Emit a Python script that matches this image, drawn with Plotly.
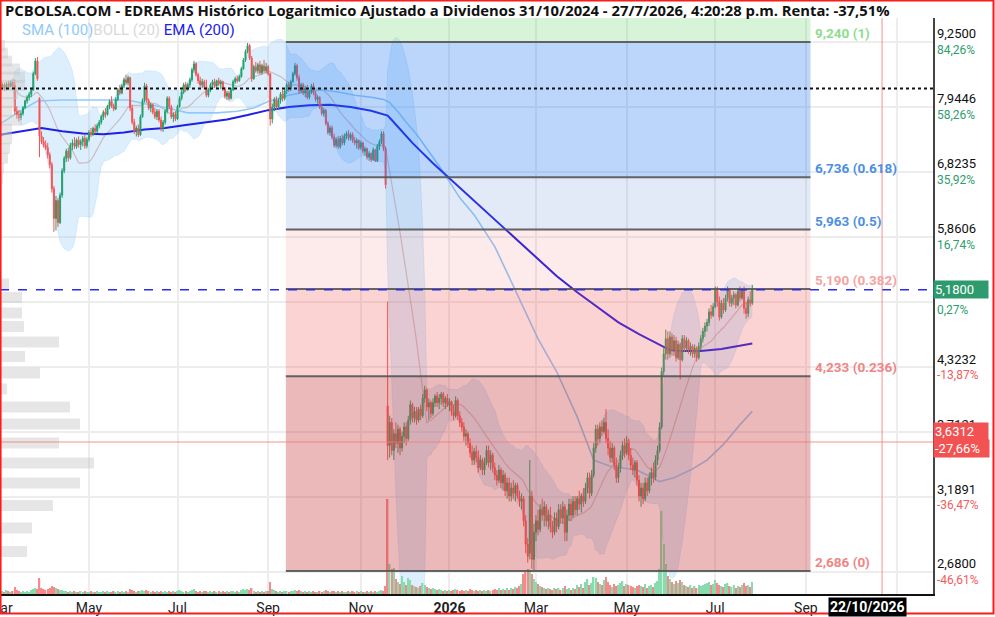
import numpy as np
import pandas as pd
import plotly.graph_objects as go

# ---------------- data ----------------
START_DATE = "2025-03-03"   # first visible session; one candle per weekday up to 27/7/2026

opens = [
8.28,8.32,8.36,8.27,8.38,8.33,8.41,8.35,7.86,7.80,
7.74,7.82,7.93,8.05,8.12,8.18,8.26,8.58,8.84,8.10,
7.42,7.32,7.26,7.22,7.10,6.94,6.56,6.12,6.38,6.06,
6.46,6.84,7.04,7.16,7.05,7.26,7.30,7.24,7.35,7.27,
7.32,7.38,7.25,7.36,7.48,7.44,7.55,7.50,7.60,7.66,
7.76,7.84,7.80,7.95,8.04,7.96,7.90,8.08,8.26,8.20,
8.34,8.46,8.40,8.50,7.92,7.66,7.50,7.56,7.44,7.76,
8.06,8.34,8.06,7.92,7.98,7.84,7.76,7.86,7.70,7.56,
7.66,7.86,8.10,7.94,7.76,7.80,7.72,7.95,8.10,8.22,
8.36,8.28,8.36,8.46,8.66,8.78,8.56,8.44,8.36,8.42,
8.32,8.16,8.26,8.36,8.42,8.34,8.44,8.38,8.42,8.28,
8.14,8.20,8.10,8.26,8.42,8.48,8.44,8.52,8.68,8.86,
9.04,9.16,8.90,8.48,8.72,8.64,8.76,8.60,8.74,8.64,
8.72,8.58,7.72,7.94,8.08,7.94,8.06,8.18,8.10,8.24,
8.36,8.28,8.42,8.58,8.74,8.50,8.24,8.36,8.20,8.30,
8.12,8.22,8.34,8.20,8.08,8.12,7.94,7.82,7.88,7.64,
7.48,7.56,7.40,7.26,7.36,7.24,7.38,7.30,7.42,7.46,
7.38,7.44,7.34,7.30,7.34,7.22,7.30,7.16,7.20,7.06,
7.12,7.02,7.18,7.00,7.24,7.32,7.46,7.20,3.95,3.60,
3.80,3.56,3.70,3.62,3.74,3.58,3.68,3.76,3.66,3.82,
3.96,3.84,3.90,3.82,3.92,3.86,4.02,4.10,3.94,3.98,
3.88,3.98,4.04,3.98,4.02,4.06,3.98,4.02,3.96,3.99,
3.90,3.86,4.00,3.86,3.80,3.76,3.68,3.70,3.62,3.54,
3.48,3.55,3.50,3.42,3.48,3.40,3.46,3.56,3.46,3.52,
3.42,3.36,3.32,3.40,3.30,3.36,3.24,3.30,3.20,3.26,
3.22,3.28,3.20,3.16,3.18,3.02,2.86,2.80,3.20,2.76,
2.94,3.02,2.96,3.10,3.06,3.12,3.02,3.06,2.98,2.94,
3.04,2.98,3.10,3.04,3.12,2.94,3.06,3.14,3.06,3.16,
3.10,3.18,3.14,3.20,3.16,3.26,3.34,3.22,3.36,3.58,
3.74,3.66,3.76,3.72,3.80,3.66,3.58,3.50,3.58,3.44,
3.34,3.42,3.52,3.60,3.54,3.64,3.52,3.44,3.40,3.46,
3.32,3.20,3.26,3.18,3.30,3.24,3.34,3.38,3.34,3.48,
3.56,3.76,4.28,4.46,4.62,4.46,4.64,4.50,4.60,4.42,
4.56,4.40,4.62,4.52,4.60,4.50,4.54,4.46,4.52,4.42,
4.54,4.62,4.70,4.76,4.80,4.92,4.88,4.98,5.18,5.04,
4.86,5.02,4.94,5.08,5.18,5.02,5.08,5.12,5.00,5.16,
5.08,5.18,4.96,4.90,5.06,5.02]

highs = [
8.36,8.40,8.40,8.42,8.44,8.45,8.47,8.46,7.95,7.88,
7.86,7.96,8.08,8.16,8.22,8.30,8.62,8.90,8.92,8.12,
7.50,7.40,7.34,7.30,7.14,6.98,6.60,6.45,6.42,6.50,
6.88,7.08,7.20,7.22,7.30,7.36,7.40,7.38,7.41,7.36,
7.42,7.44,7.40,7.52,7.56,7.58,7.62,7.64,7.70,7.80,
7.88,7.92,7.98,8.08,8.14,8.00,8.12,8.30,8.36,8.38,
8.50,8.56,8.54,8.52,7.98,7.72,7.60,7.62,7.80,8.10,
8.40,8.38,8.10,8.02,8.00,7.92,7.90,7.90,7.76,7.70,
7.90,8.14,8.14,7.98,7.84,7.86,7.98,8.14,8.26,8.40,
8.42,8.40,8.50,8.70,8.84,8.82,8.60,8.52,8.48,8.46,
8.46,8.30,8.40,8.46,8.48,8.46,8.50,8.46,8.44,8.32,
8.24,8.24,8.30,8.46,8.52,8.54,8.56,8.72,8.90,9.08,
9.22,9.20,8.94,8.76,8.82,8.80,8.84,8.78,8.86,8.80,
8.76,8.60,8.00,8.12,8.14,8.10,8.22,8.26,8.28,8.40,
8.42,8.46,8.62,8.80,8.78,8.56,8.40,8.40,8.34,8.36,
8.26,8.38,8.40,8.24,8.16,8.14,8.00,7.92,7.90,7.68,
7.60,7.60,7.46,7.40,7.42,7.42,7.44,7.46,7.50,7.52,
7.48,7.48,7.40,7.38,7.36,7.34,7.32,7.24,7.22,7.16,
7.14,7.22,7.20,7.28,7.36,7.50,7.50,7.24,5.04,3.86,
3.84,3.74,3.80,3.78,3.76,3.72,3.80,3.80,3.86,4.00,
3.98,3.94,3.94,3.94,3.96,4.06,4.14,4.12,4.02,4.00,
4.02,4.06,4.08,4.06,4.08,4.08,4.04,4.06,4.02,4.00,
3.96,4.04,4.02,3.90,3.84,3.80,3.74,3.72,3.66,3.60,
3.58,3.60,3.56,3.52,3.50,3.50,3.60,3.60,3.56,3.54,
3.46,3.40,3.44,3.42,3.40,3.38,3.34,3.34,3.30,3.32,
3.30,3.30,3.24,3.22,3.20,3.06,2.90,3.48,3.24,3.00,
3.06,3.10,3.14,3.18,3.16,3.14,3.10,3.12,3.02,3.08,
3.08,3.14,3.14,3.16,3.14,3.10,3.18,3.18,3.20,3.20,
3.20,3.24,3.22,3.26,3.30,3.38,3.38,3.40,3.62,3.78,
3.78,3.80,3.82,3.84,3.92,3.74,3.64,3.62,3.60,3.50,
3.46,3.56,3.64,3.66,3.68,3.66,3.58,3.50,3.48,3.48,
3.36,3.30,3.30,3.34,3.34,3.38,3.42,3.46,3.52,3.60,
3.80,4.32,4.52,4.72,4.70,4.70,4.68,4.66,4.64,4.60,
4.58,4.66,4.66,4.64,4.62,4.58,4.56,4.56,4.54,4.58,
4.66,4.74,4.80,4.84,4.96,5.00,5.02,5.22,5.22,5.10,
5.06,5.08,5.12,5.22,5.20,5.12,5.16,5.14,5.20,5.22,
5.20,5.22,5.04,5.10,5.16,5.24]

lows = [
8.22,8.26,8.24,8.25,8.30,8.31,8.30,7.80,7.72,7.68,
7.70,7.78,7.90,8.00,8.06,8.12,8.24,8.55,8.44,7.06,
7.28,7.22,7.18,7.04,6.88,6.50,5.93,5.95,6.00,6.04,
6.42,6.80,6.98,6.99,7.02,7.18,7.20,7.20,7.22,7.18,
7.24,7.20,7.21,7.32,7.40,7.42,7.46,7.47,7.55,7.62,
7.70,7.74,7.78,7.90,7.92,7.86,7.88,8.05,8.16,8.18,
8.30,8.36,8.35,7.86,7.62,7.45,7.41,7.40,7.42,7.74,
8.02,8.02,7.88,7.84,7.80,7.72,7.70,7.66,7.50,7.49,
7.62,7.82,7.90,7.72,7.66,7.68,7.70,7.92,8.06,8.18,
8.22,8.24,8.30,8.42,8.60,8.52,8.38,8.32,8.30,8.28,
8.12,8.12,8.22,8.30,8.30,8.30,8.34,8.28,8.24,8.10,
8.07,8.06,8.08,8.24,8.38,8.40,8.42,8.50,8.66,8.82,
9.00,8.86,8.42,8.46,8.60,8.58,8.56,8.56,8.60,8.58,
8.54,7.60,7.64,7.86,7.88,7.90,8.00,8.04,8.06,8.18,
8.22,8.24,8.40,8.54,8.44,8.18,8.20,8.16,8.12,8.08,
8.08,8.18,8.16,8.04,8.00,7.90,7.78,7.76,7.60,7.44,
7.42,7.36,7.22,7.22,7.20,7.20,7.26,7.26,7.36,7.34,
7.34,7.30,7.26,7.20,7.18,7.18,7.12,7.08,7.02,7.00,
6.98,7.00,6.98,6.98,7.18,7.28,7.16,6.56,3.48,3.50,
3.52,3.48,3.58,3.54,3.52,3.55,3.62,3.60,3.64,3.78,
3.80,3.80,3.78,3.80,3.82,3.84,3.98,3.90,3.82,3.84,
3.86,3.94,3.94,3.92,3.96,3.94,3.92,3.94,3.90,3.86,
3.82,3.84,3.82,3.76,3.72,3.64,3.60,3.58,3.50,3.44,
3.44,3.46,3.38,3.40,3.36,3.36,3.44,3.42,3.40,3.38,
3.32,3.28,3.30,3.26,3.24,3.20,3.18,3.16,3.16,3.18,
3.16,3.18,3.12,3.10,2.98,2.80,2.74,2.76,2.70,2.69,
2.88,2.92,2.94,3.02,2.98,2.98,2.96,2.94,2.90,2.92,
2.94,2.96,3.00,3.00,2.88,2.88,3.02,3.02,3.04,3.06,
3.06,3.10,3.08,3.12,3.14,3.22,3.18,3.20,3.34,3.54,
3.60,3.62,3.68,3.70,3.62,3.52,3.46,3.46,3.40,3.30,
3.30,3.38,3.48,3.50,3.52,3.48,3.40,3.36,3.34,3.28,
3.16,3.12,3.14,3.16,3.20,3.22,3.28,3.30,3.32,3.44,
3.54,3.74,4.24,4.40,4.40,4.42,4.44,4.44,4.38,4.40,
4.20,4.38,4.48,4.48,4.46,4.44,4.42,4.42,4.38,4.40,
4.50,4.58,4.64,4.70,4.76,4.84,4.86,4.96,4.98,4.82,
4.84,4.90,4.92,5.04,4.98,4.98,5.00,4.96,4.98,5.04,
5.06,4.90,4.84,4.86,4.98,5.00]

closes = [
8.32,8.36,8.27,8.38,8.33,8.41,8.35,7.86,7.80,7.74,
7.82,7.93,8.05,8.12,8.18,8.26,8.58,8.84,8.48,7.42,
7.32,7.26,7.22,7.10,6.94,6.56,6.12,6.38,6.06,6.46,
6.84,7.04,7.16,7.05,7.26,7.30,7.24,7.35,7.27,7.32,
7.38,7.25,7.36,7.48,7.44,7.55,7.50,7.60,7.66,7.76,
7.84,7.80,7.95,8.04,7.96,7.90,8.08,8.26,8.20,8.34,
8.46,8.40,8.50,7.92,7.66,7.50,7.56,7.44,7.76,8.06,
8.34,8.06,7.92,7.98,7.84,7.76,7.86,7.70,7.56,7.66,
7.86,8.10,7.94,7.76,7.80,7.72,7.95,8.10,8.22,8.36,
8.28,8.36,8.46,8.66,8.78,8.56,8.44,8.36,8.42,8.32,
8.16,8.26,8.36,8.42,8.34,8.44,8.38,8.42,8.28,8.14,
8.20,8.10,8.26,8.42,8.48,8.44,8.52,8.68,8.86,9.04,
9.16,8.90,8.48,8.72,8.64,8.76,8.60,8.74,8.64,8.72,
8.58,7.72,7.94,8.08,7.94,8.06,8.18,8.10,8.24,8.36,
8.28,8.42,8.58,8.74,8.50,8.24,8.36,8.20,8.30,8.12,
8.22,8.34,8.20,8.08,8.12,7.94,7.82,7.88,7.64,7.48,
7.56,7.40,7.26,7.36,7.24,7.38,7.30,7.42,7.46,7.38,
7.44,7.34,7.30,7.34,7.22,7.30,7.16,7.20,7.06,7.12,
7.02,7.18,7.00,7.24,7.32,7.46,7.20,6.62,3.60,3.80,
3.56,3.70,3.62,3.74,3.58,3.68,3.76,3.66,3.82,3.96,
3.84,3.90,3.82,3.92,3.86,4.02,4.10,3.94,3.98,3.88,
3.98,4.04,3.98,4.02,4.06,3.98,4.02,3.96,3.99,3.90,
3.86,4.00,3.86,3.80,3.76,3.68,3.70,3.62,3.54,3.48,
3.55,3.50,3.42,3.48,3.40,3.46,3.56,3.46,3.52,3.42,
3.36,3.32,3.40,3.30,3.36,3.24,3.30,3.20,3.26,3.22,
3.28,3.20,3.16,3.18,3.02,2.86,2.78,3.20,2.76,2.94,
3.02,2.96,3.10,3.06,3.12,3.02,3.06,2.98,2.94,3.04,
2.98,3.10,3.04,3.12,2.94,3.06,3.14,3.06,3.16,3.10,
3.18,3.14,3.20,3.16,3.26,3.34,3.22,3.36,3.58,3.74,
3.66,3.76,3.72,3.80,3.66,3.58,3.50,3.58,3.44,3.34,
3.42,3.52,3.60,3.54,3.64,3.52,3.44,3.40,3.46,3.32,
3.20,3.26,3.18,3.30,3.24,3.34,3.38,3.34,3.48,3.56,
3.76,4.28,4.46,4.62,4.46,4.64,4.50,4.60,4.42,4.56,
4.40,4.62,4.52,4.60,4.50,4.54,4.46,4.52,4.42,4.54,
4.62,4.70,4.76,4.80,4.92,4.88,4.98,5.18,5.04,4.86,
5.02,4.94,5.08,5.18,5.02,5.08,5.12,5.00,5.16,5.08,
5.18,4.96,4.90,5.06,5.02,5.18]

volumes = [  # thousands of shares
20,30,20,40,30,20,30,70,40,30, 20,30,20,30,20,40,50,60,50,160,
60,50,40,50,60,80,70,60,50,40, 40,30,30,20,30,20,30,20,20,30,
20,30,20,20,30,20,20,30,20,20, 30,20,30,20,20,30,20,30,20,30,
20,30,20,50,40,30,20,30,30,40, 30,40,30,20,30,20,30,20,30,20,
30,20,30,20,30,20,30,40,30,20, 30,20,30,40,50,30,20,30,20,30,
30,20,30,20,30,20,30,20,30,20, 30,20,30,30,20,30,20,40,50,40,
50,40,60,30,20,30,20,30,20,30, 30,120,50,40,30,20,30,20,30,30,
20,30,30,40,30,40,30,20,30,20, 30,20,30,20,20,30,20,30,40,30,
20,30,30,20,30,20,30,20,20,30, 20,30,20,30,20,30,20,20,30,20,
30,20,30,20,30,40,30,80,950,300, 250,260,150,120,100,180,120,90,160,140,
90,80,70,60,80,110,90,70,60,50, 60,50,40,50,40,30,40,30,40,30,
40,50,40,30,40,30,40,30,50,40, 30,40,30,40,30,40,30,40,30,40,
50,40,60,40,50,40,60,40,60,50, 70,60,80,100,200,220,250,240,200,150,
120,100,80,70,60,50,60,50,40,60, 50,60,40,60,80,50,60,40,60,50,
90,70,100,60,120,150,90,110,170,160, 120,100,90,140,170,120,90,70,100,80,
90,110,130,80,100,90,80,70,60,80, 90,80,70,100,60,80,90,70,110,130,
250,830,500,300,180,150,120,100,130,110, 140,120,90,80,70,90,60,80,60,90,
80,90,100,110,120,90,100,140,110,90, 80,70,100,110,80,70,90,60,80,70,
90,110,80,90,70,120]

# SMA(100) and EMA(200) (session number, value)
sma_days = [0, 9, 18, 30, 45, 62, 70, 81, 91, 105, 115, 123, 130, 140, 148, 156, 164, 172, 180,
            186, 189, 193, 197, 202, 214, 223, 230, 240, 244, 249, 255, 261, 270, 280, 288, 296,
            309, 320, 327, 335, 343, 351, 359, 365]
sma_vals = [7.63, 7.85, 8.05, 8.07, 8.07, 8.07, 8.00, 7.92, 7.83, 7.83, 7.86, 7.92, 8.04, 8.16,
            8.22, 8.26, 8.22, 8.16, 8.12, 8.08, 8.02, 7.85, 7.66, 7.45, 6.87, 6.42, 6.17, 5.73,
            5.50, 5.22, 4.90, 4.62, 4.28, 3.85, 3.48, 3.43, 3.40, 3.31, 3.34, 3.40, 3.48, 3.61,
            3.78, 3.90]
ema_days = [0, 10, 20, 30, 40, 50, 60, 70, 80, 90, 100, 110, 120, 130, 140, 150, 160, 170, 180,
            185, 188, 190, 195, 200, 210, 220, 230, 240, 250, 260, 270, 280, 290, 300, 310, 320,
            325, 330, 340, 350, 360, 365]
ema_vals = [7.44, 7.50, 7.56, 7.50, 7.46, 7.45, 7.48, 7.53, 7.56, 7.61, 7.66, 7.71, 7.79, 7.88,
            7.94, 7.97, 7.98, 7.94, 7.87, 7.82, 7.78, 7.70, 7.50, 7.30, 6.96, 6.66, 6.38, 6.10,
            5.84, 5.59, 5.35, 5.15, 4.97, 4.80, 4.67, 4.55, 4.50, 4.49, 4.49, 4.51, 4.55, 4.57]

# volume profile at the left edge (bin price, traded volume)
profile_prices = [2.811, 2.970, 3.130, 3.299, 3.456, 3.622, 3.786, 3.940, 4.109, 4.266, 4.433,
                  4.585, 4.755, 4.907, 5.088, 5.251, 5.414, 5.577, 5.740, 5.903, 6.066, 6.229,
                  6.392, 6.555, 6.718, 6.881, 7.044, 7.207, 7.370, 7.533, 7.696, 7.859, 8.022,
                  8.185, 8.348, 8.511, 8.674, 8.837, 9.000, 9.163]
profile_vol = [2700, 3200, 5300, 8000, 9400, 5900, 8000, 7000, 700, 4000, 2500, 5900, 2400, 2200,
               2200, 900, 0, 0, 100, 200, 200, 200, 200, 200, 300, 400, 800, 1000, 1200, 1200,
               2200, 1200, 1500, 1800, 2500, 2500, 2000, 1200, 800, 500]

# Fibonacci retracement
fib_low, fib_high = 2.686, 9.240
fib_ratios = [1, 0.618, 0.5, 0.382, 0.236, 0]
fib_labels = ["9,240 (1)", "6,736 (0.618)", "5,963 (0.5)", "5,190 (0.382)", "4,233 (0.236)", "2,686 (0)"]
fib_label_colors = ["#8fdc8f", "#4a8fe3", "#4a8fe3", "#f5a3a3", "#f08585", "#f08585"]
fib_zone_colors = ["rgba(76,205,76,0.22)", "rgba(33,120,243,0.30)", "rgba(100,140,210,0.18)",
                   "rgba(240,80,80,0.12)", "rgba(240,80,80,0.25)", "rgba(200,60,60,0.36)"]
fib_start, fib_end = "2025-09-11 14:00", "2026-09-03 06:00"

# right axis (texts hidden under the highlight boxes in the reference are left empty)
ytick_vals = [9.25, 7.9446, 6.8235, 5.8606, 5.0336, 4.3232, 3.7121, 3.1891, 2.68]
ytick_text = ["9,2500", "7,9446", "6,8235", "5,8606", "", "4,3232", "3,7121", "3,1891", "2,6800"]
ytick_pct = ["84,26%", "58,26%", "35,92%", "16,74%", "0,27%", "-13,87%", "", "-36,47%", "-46,61%"]
Y_BOTTOM, Y_TOP = 2.5456, 9.772

# bottom axis
xtick_dates = ["2025-03-03", "2025-05-01", "2025-07-01", "2025-09-01", "2025-11-03", "2026-01-01",
               "2026-03-02", "2026-05-01", "2026-07-01", "2026-09-01", "2026-11-02"]
xtick_text = ["Mar", "May", "Jul", "Sep", "Nov", "<b>2026</b>", "Mar", "May", "Jul", "Sep", ""]
X_START, X_END = "2025-02-28 20:00", "2026-11-25 17:00"

last_price = 5.18
start_price = 8.289
cursor_price = 3.6312
cursor_date = "2026-10-22"

TITLE = "PCBOLSA.COM - EDREAMS Histórico Logaritmico Ajustado a Dividenos 31/10/2024 - 27/7/2026, 4:20:28 p.m. Renta: -37,51%"

# ---------------- figure ----------------
GREEN = "#22a06b"
RED = "#f55353"
dates = pd.bdate_range(START_DATE, periods=len(closes))
n = len(closes)
assert len(opens) == n and len(highs) == n and len(lows) == n and len(volumes) == n

c = pd.Series(closes, dtype=float)
bb_mid = c.rolling(20, min_periods=5).mean()
bb_sd = c.rolling(20, min_periods=5).std(ddof=0)
bb_up = bb_mid + 2 * bb_sd
bb_lo = bb_mid - 2 * bb_sd

fig = go.Figure()

# Bollinger band (main subplot, under candles)
fig.add_trace(go.Scatter(x=dates, y=bb_lo, mode="lines", line=dict(color="rgba(144,202,249,0.35)", width=0.8),
                         hoverinfo="skip"))
fig.add_trace(go.Scatter(x=dates, y=bb_up, mode="lines", line=dict(color="rgba(144,202,249,0.35)", width=0.8),
                         fill="tonexty", fillcolor="rgba(144,202,249,0.30)", hoverinfo="skip"))
fig.add_trace(go.Scatter(x=dates, y=bb_mid, mode="lines", line=dict(color="rgba(185,150,150,0.55)", width=1.2),
                         hoverinfo="skip"))
# SMA / EMA
fig.add_trace(go.Scatter(x=dates[sma_days], y=sma_vals, mode="lines", line=dict(color="#90caf9", width=1.6),
                         hoverinfo="skip"))
fig.add_trace(go.Scatter(x=dates[ema_days], y=ema_vals, mode="lines", line=dict(color="#1f1fe8", width=2),
                         hoverinfo="skip"))

# candles (overlay so they sit above the band)
fig.add_trace(go.Candlestick(x=dates, open=opens, high=highs, low=lows, close=closes, yaxis="y3",
                             increasing=dict(line=dict(color=GREEN, width=1), fillcolor=GREEN),
                             decreasing=dict(line=dict(color=RED, width=1), fillcolor=RED),
                             whiskerwidth=0, hoverinfo="skip"))

# volume bars
vcol = ["#86dcae" if cl >= op else "#f58a8a" for op, cl in zip(opens, closes)]
fig.add_trace(go.Bar(x=dates, y=volumes, yaxis="y2", marker=dict(color=vcol, line=dict(width=0)),
                     hoverinfo="skip"))

# volume profile
pxs, pys = [], []
for p, v in zip(profile_prices, profile_vol):
    if v > 0:
        pxs += [0, v, None]
        pys += [p, p, None]
fig.add_trace(go.Scatter(x=pxs, y=pys, xaxis="x2", yaxis="y", mode="lines",
                         line=dict(color="rgba(195,195,195,0.42)", width=11), hoverinfo="skip"))

shapes = []
# Fibonacci zones and levels (drawn over the data, translucent)
levels = [fib_low + r * (fib_high - fib_low) for r in fib_ratios]
bounds = [Y_TOP] + levels
for i, col in enumerate(fib_zone_colors):
    shapes.append(dict(type="rect", xref="x", yref="y", x0=fib_start, x1=fib_end,
                       y0=bounds[i + 1], y1=bounds[i], fillcolor=col, line=dict(width=0), layer="above"))
for lv in levels:
    shapes.append(dict(type="line", xref="x", yref="y", x0=fib_start, x1=fib_end, y0=lv, y1=lv,
                       line=dict(color="rgba(85,85,85,0.9)", width=2), layer="above"))
# start price dotted, last price dashed, crosshair
shapes.append(dict(type="line", xref="paper", yref="y", x0=0, x1=1, y0=start_price, y1=start_price,
                   line=dict(color="#111", width=2, dash="dot"), layer="above"))
shapes.append(dict(type="line", xref="paper", yref="y", x0=0, x1=1, y0=last_price, y1=last_price,
                   line=dict(color="#2a2af0", width=1.5, dash="dash"), layer="above"))
shapes.append(dict(type="line", xref="paper", yref="y", x0=0, x1=1, y0=cursor_price, y1=cursor_price,
                   line=dict(color="rgba(245,120,120,0.55)", width=1.5), layer="above"))
shapes.append(dict(type="line", xref="x", yref="paper", x0=cursor_date, x1=cursor_date, y0=0, y1=1,
                   line=dict(color="rgba(245,120,120,0.55)", width=1.5), layer="above"))
# red frame around the picture
shapes.append(dict(type="rect", xref="paper", yref="paper", x0=0.0006, x1=993.5 / 933, y0=-19.5 / 576,
                   y1=593.5 / 576, line=dict(color="#ff1a1a", width=2), fillcolor="rgba(0,0,0,0)", layer="above"))

ann = []
ann.append(dict(text="<b>" + TITLE + "</b>", xref="paper", yref="paper", x=0, y=1, xanchor="left",
                yanchor="middle", xshift=3, yshift=8, showarrow=False,
                font=dict(family="Open Sans", size=14.8, color="#111")))
ann.append(dict(text="<span style='color:#90caf9'>SMA (100)</span><span style='color:#d9d9d9'>BOLL (20)</span> "
                     "<span style='color:#2020f0'>EMA (200)</span>",
                xref="paper", yref="paper", x=0, y=1, xanchor="left", yanchor="middle", xshift=20, yshift=-12,
                showarrow=False, font=dict(family="Roboto", size=15)))
for lab, lv, colr in zip(fib_labels, levels, fib_label_colors):
    ann.append(dict(text="<b>" + lab + "</b>", xref="x", yref="y", x=fib_end, y=np.log10(lv), xanchor="left",
                    yanchor="middle", xshift=2, yshift=9, showarrow=False,
                    font=dict(family="Roboto", size=13.5, color=colr)))
for v, t, pc in zip(ytick_vals, ytick_text, ytick_pct):
    pcol = "#f35c5c" if pc.startswith("-") else "#2e9d6e"
    if t:
        ann.append(dict(text=t, xref="paper", yref="y", x=1, y=np.log10(v), xanchor="left", yanchor="middle",
                        xshift=2, yshift=8, showarrow=False, font=dict(family="Roboto", size=13, color="#111")))
    if pc:
        ann.append(dict(text=pc, xref="paper", yref="y", x=1, y=np.log10(v), xanchor="left", yanchor="middle",
                        xshift=2, yshift=-8, showarrow=False, font=dict(family="Roboto", size=12, color=pcol)))
# highlighted price boxes
ann.append(dict(text="5,1800", xref="paper", yref="y", x=1, y=np.log10(last_price), xanchor="left",
                yanchor="middle", xshift=0, showarrow=False, bgcolor="#2e9b6e", width=52, align="left",
                borderpad=1, font=dict(family="Roboto", size=13, color="white")))
ann.append(dict(text="3,6312", xref="paper", yref="y", x=1, y=np.log10(cursor_price), xanchor="left",
                yanchor="middle", xshift=0, yshift=10, showarrow=False, bgcolor="#f25252", width=52, align="left",
                borderpad=1, font=dict(family="Roboto", size=13, color="white")))
ann.append(dict(text="-27,66%", xref="paper", yref="y", x=1, y=np.log10(cursor_price), xanchor="left",
                yanchor="middle", xshift=0, yshift=-7, showarrow=False, bgcolor="#f25252", width=53, align="left",
                borderpad=1, font=dict(family="Roboto", size=13, color="white")))
ann.append(dict(text="<b>22/10/2026</b>", xref="x", yref="paper", x=cursor_date, y=0, xanchor="center",
                yanchor="top", xshift=-15, yshift=-3, showarrow=False, bgcolor="#000", borderpad=1,
                font=dict(family="Liberation Sans Narrow, Roboto", size=14, color="white")))

grid = "#ededed"
fig.update_layout(
    width=995, height=617,
    margin=dict(l=0, r=62, t=18, b=23, autoexpand=False),
    paper_bgcolor="white", plot_bgcolor="white",
    showlegend=False, bargap=0.3,
    shapes=shapes, annotations=ann,
    xaxis=dict(type="date", range=[X_START, X_END], rangebreaks=[dict(bounds=["sat", "mon"])],
               tickmode="array", tickvals=xtick_dates, ticktext=xtick_text, ticks="",
               ticklabeloverflow="allow", automargin=False,
               showgrid=True, gridcolor=grid, gridwidth=2, showline=True, linecolor="#111", linewidth=2,
               zeroline=False, rangeslider=dict(visible=False),
               tickfont=dict(family="Liberation Sans Narrow, Roboto", size=14, color="#222")),
    xaxis2=dict(overlaying="x", range=[0, 93300], visible=False),
    yaxis=dict(type="log", range=[np.log10(Y_BOTTOM), np.log10(Y_TOP)], side="right",
               tickmode="array", tickvals=ytick_vals, showticklabels=False, ticks="",
               showgrid=True, gridcolor=grid, gridwidth=2, showline=True, linecolor="#444", linewidth=1.5,
               zeroline=False, automargin=False),
    yaxis2=dict(overlaying="y", range=[0, 5760], visible=False),
    yaxis3=dict(overlaying="y", type="log", range=[np.log10(Y_BOTTOM), np.log10(Y_TOP)], visible=False),
)

fig.write_html("out.html")
